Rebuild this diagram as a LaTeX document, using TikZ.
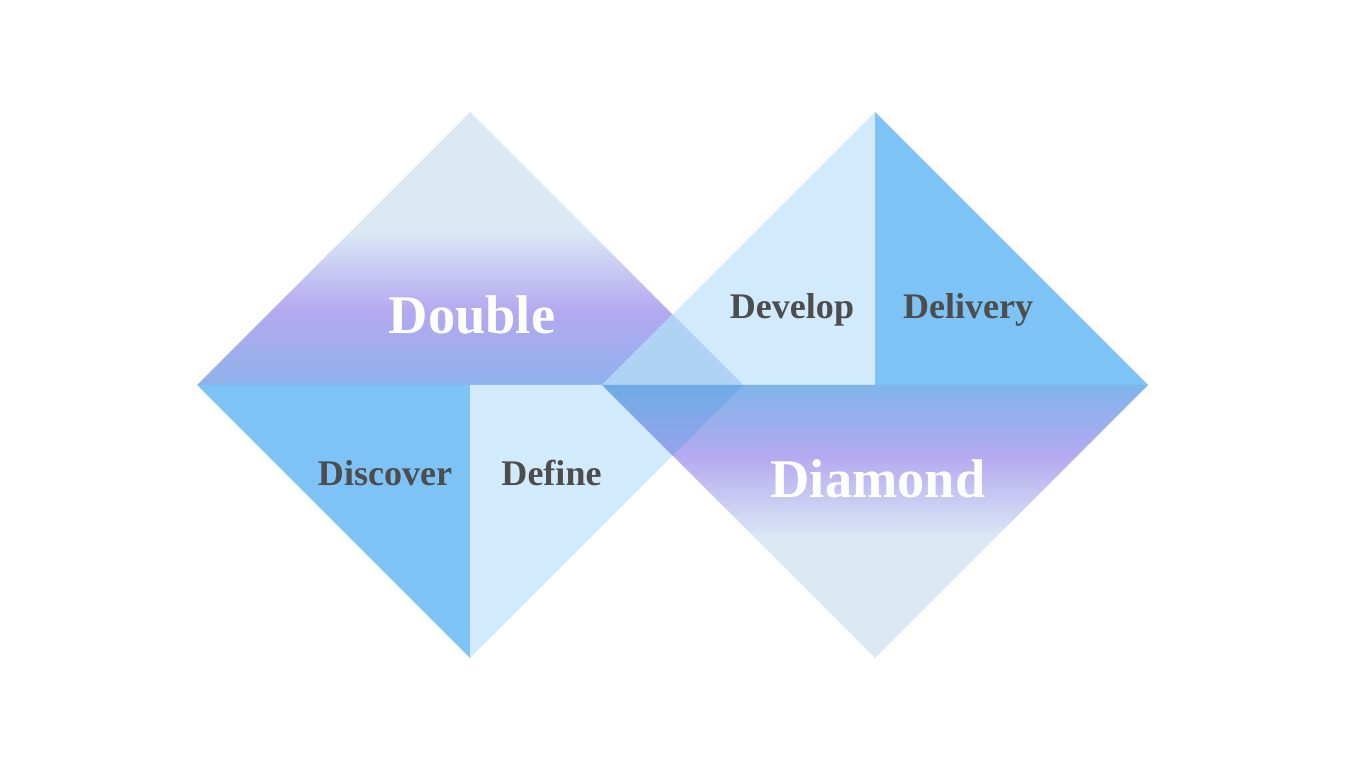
\documentclass[tikz,border=0pt]{standalone}
\usepackage{fontspec}
\setmainfont{Liberation Serif}
\usetikzlibrary{calc}
\definecolor{skyblue}{HTML}{7DC3F5}
\definecolor{paleblue}{HTML}{D1EBFC}
\definecolor{mistblue}{HTML}{DCE9F5}
\definecolor{lavender}{HTML}{B4A9F0}
\definecolor{lowblue}{HTML}{8FB2EB}
\definecolor{highblue}{HTML}{7FB5E9}
\definecolor{overtop}{HTML}{AED3F5}
\definecolor{overbottom}{HTML}{70ABE6}
\definecolor{overtip}{HTML}{96A3EE}
\definecolor{labelgrey}{HTML}{4D4D4D}
% path box runs from 25bp (bottom) to 75bp (top)
\pgfdeclareverticalshading{doubletop}{100bp}{
  color(0bp)=(lowblue); color(25bp)=(lowblue);
  color(38.7bp)=(lavender); color(53.4bp)=(mistblue);
  color(75bp)=(mistblue); color(100bp)=(mistblue)}
\pgfdeclareverticalshading{diamondbottom}{100bp}{
  color(0bp)=(mistblue); color(25bp)=(mistblue);
  color(46.6bp)=(mistblue); color(62.2bp)=(lavender);
  color(75bp)=(highblue); color(100bp)=(highblue)}
\tikzset{
  facet/.style={draw=none},
  dark/.style={facet, fill=skyblue},
  light/.style={facet, fill=paleblue},
  steplabel/.style={
    font=\bfseries\fontsize{20.5}{24}\selectfont,
    text=labelgrey,
    anchor=base,
    inner sep=0pt
  },
  titleword/.style={
    font=\bfseries\fontsize{31}{36}\selectfont,
    text=white,
    anchor=base,
    inner sep=0pt
  }
}

\begin{document}
\begin{tikzpicture}[x=0.02cm, y=0.02cm]
  \useasboundingbox (0,0) rectangle (1366,768);

  % left diamond
  \coordinate (lleft) at (197,383);
  \coordinate (ltop) at (470,656);
  \coordinate (lright) at (743,383);
  \coordinate (lbottom) at (470,110);
  \coordinate (lcentre) at (470,383);
  % right diamond
  \coordinate (rleft) at (602,383);
  \coordinate (rtop) at (875,656);
  \coordinate (rright) at (1148,383);
  \coordinate (rbottom) at (875,110);
  \coordinate (rcentre) at (875,383);
  % where the two meet
  \coordinate (xtop) at (672.5,453.5);
  \coordinate (xbottom) at (672.5,312.5);

  \shade[shading=doubletop] (lleft) -- (ltop) -- (lright) -- cycle;
  \fill[dark] (lleft) -- (lcentre) -- (lbottom) -- cycle;
  \fill[light] (lcentre) -- (lright) -- (lbottom) -- cycle;

  \fill[light] (rleft) -- (rtop) -- (rcentre) -- cycle;
  \fill[dark] (rcentre) -- (rtop) -- (rright) -- cycle;
  \shade[shading=diamondbottom] (rleft) -- (rright) -- (rbottom) -- cycle;

  \fill[overtop] (rleft) -- (xtop) -- (lright) -- cycle;
  \shade[top color=overbottom, bottom color=overtip]
    (rleft) -- (lright) -- (xbottom) -- cycle;

  \node[titleword] (double) at (472,434) {Double};
  \node[titleword] (diamond) at (878,270) {Diamond};
  \node[steplabel] (discover) at (385,282) {Discover};
  \node[steplabel] (define) at (551.5,282) {Define};
  \node[steplabel] (develop) at (792,449) {Develop};
  \node[steplabel] (delivery) at (968,449) {Delivery};
\end{tikzpicture}
\end{document}
